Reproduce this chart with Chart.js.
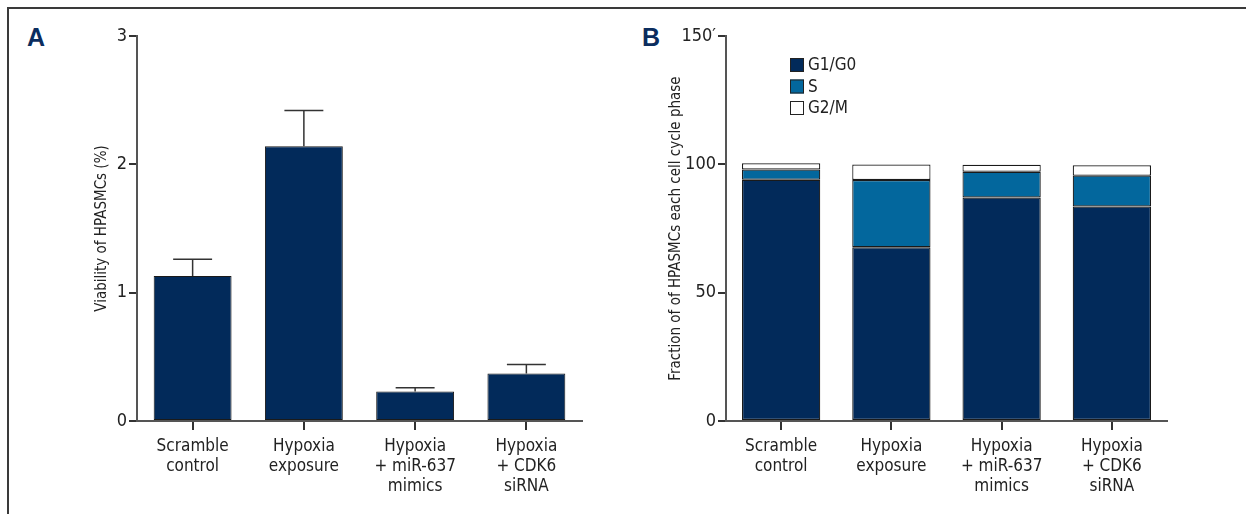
<!DOCTYPE html>
<html>
<head>
<meta charset="utf-8">
<script src="https://cdn.jsdelivr.net/npm/chart.js@4.4.1/dist/chart.umd.min.js"></script>
<style>
  html, body { margin: 0; padding: 0; background: #fff; }
  body { width: 1246px; height: 514px; position: relative; overflow: hidden; }
  #frame { position: absolute; left: 7px; top: 7px; width: 1239px; height: 507px;
           border-top: 2px solid #3a3a3a; border-left: 2px solid #3a3a3a; box-sizing: border-box; }
  .panel { position: absolute; font-family: 'Liberation Sans', Arial, sans-serif; font-weight: bold;
           color: #0b2d5e; font-size: 25px; line-height: 1; }
  #cA { position: absolute; left: 0; top: 0; }
  #cB { position: absolute; left: 630px; top: 0; }
</style>
</head>
<body>
<div id="frame"></div>
<div class="panel" style="left:27px; top:25px;">A</div>
<div class="panel" style="left:642px; top:25px;">B</div>
<canvas id="cA" width="630" height="514"></canvas>
<canvas id="cB" width="616" height="514"></canvas>
<script>
// ---- Data ----
const categories = [
  ['Scramble', 'control'],
  ['Hypoxia', 'exposure'],
  ['Hypoxia', '+ miR-637', 'mimics'],
  ['Hypoxia', '+ CDK6', 'siRNA']
];
const viability = [1.13, 2.14, 0.23, 0.37];
const viabilityErr = [0.13, 0.28, 0.03, 0.07];
const yTicksA = [0, 1, 2, 3];

const phaseLabels = ['G1/G0', 'S', 'G2/M'];
const g1g0 = [94.0, 67.7, 87.1, 83.6];
const sPhase = [4.0, 26.2, 10.0, 12.0];
const g2m = [2.4, 6.0, 2.7, 4.0];
const yTickValuesB = [0, 50, 100, 150];
const yTickLabelsB = ['0', '50', '100', '150\u2032'];

// ---- Styles ----
const FONT = "'Liberation Sans Narrow', 'DejaVu Sans Condensed', 'Roboto', sans-serif";
const TXT = '#222';
const AXIS = '#555';
const NAVY = '#022a5a';
const BLUE = '#03679d';
Chart.defaults.font.family = FONT;
Chart.defaults.color = TXT;
Chart.defaults.animation = false;

const errorBarPlugin = {
  id: 'errorBars',
  afterDatasetsDraw(chart) {
    const ctx = chart.ctx;
    const meta = chart.getDatasetMeta(0);
    const y = chart.scales.y;
    ctx.save();
    ctx.strokeStyle = '#333';
    ctx.lineWidth = 1.5;
    meta.data.forEach((bar, i) => {
      const v = viability[i], e = viabilityErr[i];
      const yTop = y.getPixelForValue(v + e);
      const yBar = y.getPixelForValue(v);
      const half = bar.width / 4;
      ctx.beginPath();
      ctx.moveTo(bar.x, yBar);
      ctx.lineTo(bar.x, yTop);
      ctx.moveTo(bar.x - half, yTop);
      ctx.lineTo(bar.x + half, yTop);
      ctx.stroke();
    });
    ctx.restore();
  }
};

function fixedY(w) { return function (s) { s.width = w; }; }
function fixedX(h) { return function (s) { s.height = h; }; }

new Chart(document.getElementById('cA'), {
  type: 'bar',
  data: {
    labels: categories,
    datasets: [{
      data: viability,
      backgroundColor: NAVY,
      borderColor: '#1a1a1a',
      borderWidth: 1,
      borderSkipped: false,
      barPercentage: 0.70,
      categoryPercentage: 1.0
    }]
  },
  options: {
    responsive: false,
    layout: { padding: { left: 0, right: 48, top: 36, bottom: 0 } },
    plugins: { legend: { display: false }, tooltip: { enabled: false } },
    scales: {
      x: {
        offset: true,
        afterFit: fixedX(93),
        grid: { display: true, offset: false, drawOnChartArea: false, drawTicks: true, tickLength: 9, color: '#333', lineWidth: 2 },
        border: { display: true, color: AXIS, width: 2 },
        ticks: { font: { size: 17, lineHeight: 1.2 }, color: TXT, padding: 6, maxRotation: 0, autoSkip: false }
      },
      y: {
        min: 0, max: 3,
        afterFit: fixedY(137),
        afterBuildTicks: (s) => { s.ticks = yTicksA.map(v => ({ value: v })); },
        grid: { display: true, drawOnChartArea: false, drawTicks: true, tickLength: 8, color: '#333', lineWidth: 2 },
        border: { display: true, color: AXIS, width: 2 },
        ticks: { font: { size: 18 }, color: TXT, padding: 2 },
        title: { display: true, text: 'Viability of HPASMCs (%)', font: { size: 15 }, color: TXT, padding: { top: 93, bottom: 0 } }
      }
    }
  },
  plugins: [errorBarPlugin]
});

const legendPlugin = {
  id: 'innerLegend',
  afterDraw(chart) {
    const ctx = chart.ctx;
    const x0 = 790 - 630, y0 = 58, step = 21.5, box = 14;
    ctx.save();
    ctx.font = '17px ' + FONT;
    ctx.textBaseline = 'middle';
    chart.data.datasets.forEach((ds, i) => {
      const y = y0 + i * step;
      ctx.fillStyle = ds.backgroundColor;
      ctx.fillRect(x0, y, box, box);
      ctx.strokeStyle = '#222';
      ctx.lineWidth = 1;
      ctx.strokeRect(x0 + 0.5, y + 0.5, box - 1, box - 1);
      ctx.fillStyle = TXT;
      ctx.fillText(ds.label, x0 + box + 4, y + box / 2 + 1);
    });
    ctx.restore();
  }
};

const stackCommon = { borderColor: '#1a1a1a', borderWidth: 1.2, borderSkipped: false, barPercentage: 0.71, categoryPercentage: 1.0 };

new Chart(document.getElementById('cB'), {
  type: 'bar',
  data: {
    labels: categories,
    datasets: [
      Object.assign({ label: phaseLabels[0], data: g1g0, backgroundColor: NAVY }, stackCommon),
      Object.assign({ label: phaseLabels[1], data: sPhase, backgroundColor: BLUE }, stackCommon),
      Object.assign({ label: phaseLabels[2], data: g2m, backgroundColor: '#ffffff' }, stackCommon)
    ]
  },
  options: {
    responsive: false,
    layout: { padding: { left: 0, right: 79, top: 36, bottom: 0 } },
    plugins: { legend: { display: false }, tooltip: { enabled: false } },
    scales: {
      x: {
        stacked: true,
        offset: true,
        afterFit: fixedX(93),
        grid: { display: true, offset: false, drawOnChartArea: false, drawTicks: true, tickLength: 9, color: '#333', lineWidth: 2 },
        border: { display: true, color: AXIS, width: 2 },
        ticks: { font: { size: 17, lineHeight: 1.2 }, color: TXT, padding: 6, maxRotation: 0, autoSkip: false }
      },
      y: {
        stacked: true,
        min: 0, max: 150,
        afterFit: fixedY(96),
        afterBuildTicks: (s) => { s.ticks = yTickValuesB.map(v => ({ value: v })); },
        grid: { display: true, drawOnChartArea: false, drawTicks: true, tickLength: 8, color: '#333', lineWidth: 2 },
        border: { display: true, color: AXIS, width: 2 },
        ticks: { font: { size: 18 }, color: TXT, padding: 2,
                 callback: (v) => yTickLabelsB[yTickValuesB.indexOf(v)] },
        title: { display: true, text: 'Fraction of of HPASMCs each cell cycle phase', font: { size: 15 }, color: TXT, padding: { top: 37, bottom: 0 } }
      }
    }
  },
  plugins: [legendPlugin]
});
</script>
</body>
</html>
